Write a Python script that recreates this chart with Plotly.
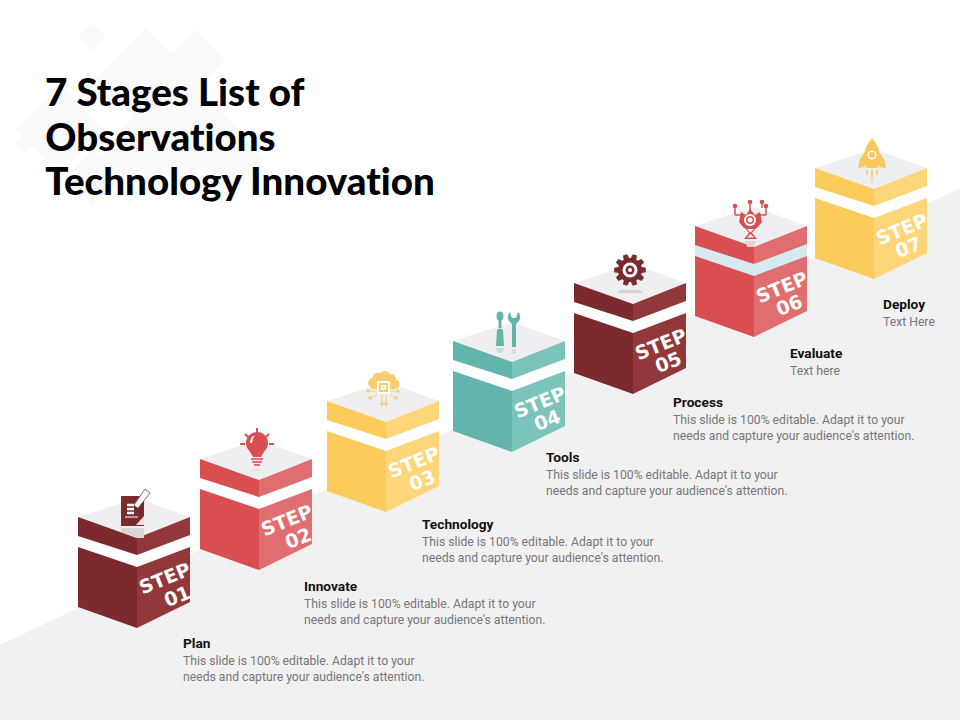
import math
import plotly.graph_objects as go

# text content
title_lines = ["7 Stages List of", "Observations", "Technology Innovation"]
step_labels = ["01", "02", "03", "04", "05", "06", "07"]
stage_names = ["Plan", "Innovate", "Technology", "Tools", "Process", "Evaluate", "Deploy"]
long_text = ["This slide is 100% editable. Adapt it to your",
             "needs and capture your audience's attention."]
stage_text = [long_text, long_text, long_text, long_text, long_text, ["Text here"], ["Text Here"]]

# layout of the slide, in pixels
cube_left = [78, 200, 327, 453, 574, 695, 815]
cube_top = [517, 459, 401, 341, 283, 226, 168]
number_dx = [99, 98, 95, 94, 94, 94, 93]
label_x = [182, 303, 421, 545, 672, 789, 882]
label_y = [643, 586, 524, 457, 402, 353, 304]

# styles
left_colors = ["#7b2b2e", "#d94f51", "#fbcc5c", "#62b5ad", "#7b2b2e", "#d94f51", "#fbcc5c"]
right_colors = ["#92383b", "#e06d70", "#fcd678", "#7cc3bb", "#92383b", "#e06d70", "#fcd678"]
band_colors = ["#ffffff", "#ffffff", "#ffffff", "#ffffff", "#ffffff", "#d6e9ef", "#ffffff"]
GREY = "#f1f1f2"
TOP = "#efeff1"
DIAMOND = "#f9f9f9"

fig = go.Figure()


def poly(points, color):
    path = "M " + " L ".join(f"{x},{y}" for x, y in points) + " Z"
    fig.add_shape(type="path", path=path, fillcolor=color, line_width=0, layer="below")


def curve(path, color):
    fig.add_shape(type="path", path=path, fillcolor=color, line_width=0, layer="below")


def dot(x, y, r, color, ry=None):
    ry = r if ry is None else ry
    fig.add_shape(type="circle", x0=x - r, x1=x + r, y0=y - ry, y1=y + ry,
                  fillcolor=color, line_width=0, layer="below")


def stroke(x0, y0, x1, y1, color, width=1.5):
    fig.add_shape(type="line", x0=x0, y0=y0, x1=x1, y1=y1,
                  line=dict(color=color, width=width), layer="below")


def diamond(x, y, r, color=DIAMOND):
    poly([(x, y - r), (x + r, y), (x, y + r), (x - r, y)], color)


def text(x, y, s, size, color, family="Roboto", anchor="left", weight="normal", angle=0):
    fig.add_annotation(x=x, y=y, text=s, showarrow=False, xanchor=anchor, yanchor="middle",
                       textangle=angle, borderpad=0,
                       font=dict(family=family, size=size, color=color, weight=weight))


def draw_cube(i):
    x, y = cube_left[i], cube_top[i]
    mid, right = x + 59, x + 112
    poly([(x, y), (mid, y - 19), (right, y), (mid, y + 21)], TOP)
    poly([(x, y), (mid, y + 21), (mid, y + 111), (x, y + 90)], left_colors[i])
    poly([(mid, y + 21), (right, y), (right, y + 85), (mid, y + 111)], right_colors[i])
    poly([(x, y + 19), (mid, y + 38), (right, y + 18), (right, y + 30), (mid, y + 50), (x, y + 30)],
         band_colors[i])
    text(x + 87, y + 61, "STEP", 19, "white", "DejaVu Sans", "center", "bold", -22)
    text(x + number_dx[i], y + 79, step_labels[i], 19, "white", "DejaVu Sans", "center", "bold", -22)


def draw_book(c, pale):
    poly([(121, 496), (144, 496), (144, 526), (121, 526)], c)
    poly([(121, 528), (144, 528), (144, 538), (137, 538), (121, 532)], pale)
    for yy in (505, 509, 513):
        stroke(127, yy, 134, yy, "#ffffff", 2.5)
    stroke(125, 517, 138, 517, "#ffffff", 1)
    poly([(145, 489), (150, 493), (138, 508), (134, 505)], "#ffffff")
    stroke(145, 489, 134, 505, "#8a6a6c", 1)
    stroke(150, 493, 138, 508, "#8a6a6c", 1)
    stroke(145, 489, 150, 493, "#8a6a6c", 1)
    poly([(144, 516), (144, 525), (136, 525)], "#ecdcdc")


def draw_bulb(c, pale):
    dot(257, 443, 11, c)
    poly([(249, 450), (265, 450), (261, 457), (253, 457)], c)
    curve("M 250,443 Q 250,437 255,435 Q 252,439 252,443 Z", "#ffffff")
    for yy, half in ((459, 6), (462, 5), (465, 3)):
        stroke(257 - half, yy, 257 + half, yy, c, 1.6)
    stroke(257, 428, 257, 433, c, 2)
    stroke(245, 434, 248, 437, c, 2)
    stroke(269, 434, 266, 437, c, 2)
    stroke(240, 444, 245, 444, c, 2)
    stroke(269, 444, 274, 444, c, 2)
    stroke(253, 470, 261, 470, pale, 1.5)


def draw_cloud(c, pale):
    for cx, cy, r in ((373, 383, 5), (378, 378, 5.5), (385, 376, 5), (391, 379, 5), (395, 384, 4.5)):
        dot(cx, cy, r, c)
    poly([(370, 384), (398, 384), (396, 389), (371, 389)], c)
    poly([(377, 381), (390, 381), (390, 394), (377, 394)], "#ffffff")
    poly([(379, 383), (388, 383), (388, 392), (379, 392)], c)
    poly([(381, 385), (386, 385), (386, 390), (381, 390)], "#ffffff")
    poly([(382.5, 386.5), (384.5, 386.5), (384.5, 388.5), (382.5, 388.5)], c)
    for x0, y0, x1, y1 in ((377, 391, 369, 391), (377, 394, 372, 398), (390, 391, 397, 391),
                           (390, 394, 395, 398), (382, 394, 382, 403), (386, 394, 386, 403)):
        stroke(x0, y0, x1, y1, c, 1)
    for cx, cy in ((368, 391), (370, 398), (398, 391), (396, 398), (382, 404), (386, 404)):
        dot(cx, cy, 1.8, c)
    stroke(372, 410, 392, 410, pale, 1)


def draw_tools(c, pale):
    dot(500, 316, 3.5, c, 4.5)
    poly([(498.5, 319), (501.5, 319), (501.5, 328), (498.5, 328)], c)
    curve("M 497,330 Q 500,327 503,330 L 504,346 L 496,346 Z", c)
    poly([(496, 348), (504, 348), (503, 353), (497, 353)], pale)
    curve("M 510,312 L 512,318 L 516,318 L 518,312 Q 522,316 519,321 L 516,324 L 516,347 "
          "L 512,347 L 512,324 L 509,321 Q 506,316 510,312 Z", c)
    poly([(512, 349), (516, 349), (515.5, 354), (512.5, 354)], pale)


def draw_gear(c, pale):
    cx, cy = 630, 270
    pts = []
    for k in range(10):
        base = k * 2 * math.pi / 10
        for off, r in ((-0.24, 12), (-0.14, 16), (0.14, 16), (0.24, 12)):
            pts.append((round(cx + r * math.cos(base + off), 1), round(cy + r * math.sin(base + off), 1)))
    poly(pts, c)
    dot(cx, cy, 7.5, "#ffffff")
    dot(cx, cy, 4.5, c)
    dot(cx, cy, 2, "#ffffff")
    poly([(620, 290), (640, 290), (643, 293), (617, 293)], pale)


def draw_robot(c, pale):
    for x0, y0, x1, y1 in ((735, 206, 735, 215), (735, 215, 741, 215), (750, 202, 750, 212),
                           (762, 202, 762, 208), (766, 206, 766, 215), (766, 215, 760, 215)):
        stroke(x0, y0, x1, y1, c, 1.5)
    for cx, cy in ((735, 206), (750, 202), (762, 202), (766, 206)):
        dot(cx, cy, 2.3, c)
    poly([(741, 212), (746, 215), (750, 209), (755, 215), (760, 212), (762, 222), (757, 228), (744, 228), (739, 222)], c)
    dot(750, 220, 6, "#ffffff")
    dot(750, 220, 4, c)
    dot(750, 220, 2.5, "#ffffff")
    poly([(744, 227), (757, 227), (752, 233), (757, 239), (744, 239), (749, 233)], c)
    poly([(747, 229), (754, 229), (750.5, 232.5)], "#ffffff")
    poly([(747, 237.5), (754, 237.5), (750.5, 234)], "#ffffff")
    poly([(745, 241), (756, 241), (754, 247), (747, 247)], pale)


def draw_rocket(c, pale):
    curve("M 872,138 Q 880,147 880,158 L 878,168 L 866,168 L 864,158 Q 864,147 872,138 Z", c)
    poly([(865, 152), (865, 167), (858, 168), (860, 159)], c)
    poly([(879, 152), (879, 167), (886, 168), (884, 159)], c)
    dot(872, 155, 4.5, "#ffffff")
    dot(872, 155, 3, c)
    stroke(867, 170, 867, 175, c, 1.5)
    stroke(872, 170, 872, 185, pale, 1.5)
    stroke(872, 170, 872, 178, c, 1.5)
    stroke(877, 170, 877, 175, c, 1.5)


# page background
for dx, dy, r in [(92, 37, 14), (145, 78, 50), (195, 60, 30), (60, 130, 45), (25, 143, 10),
                  (92, 178, 28), (180, 130, 60), (230, 160, 35), (130, 165, 40)]:
    diamond(dx, dy, r)
poly([(0, 645), (960, 188), (960, 720), (0, 720)], GREY)

for i in range(7):
    draw_cube(i)

draw_book(left_colors[0], "#dcd4d6")
draw_bulb(left_colors[1], "#e8d9da")
draw_cloud("#f9cf6e", "#f0ecdc")
draw_tools(left_colors[3], "#c9dfdc")
draw_gear(left_colors[4], "#d8d2d2")
draw_robot(left_colors[5], "#eccfd0")
draw_rocket("#f8c95f", "#f5e3b4")

for line, y in zip(title_lines, (91, 136, 180)):
    text(44, y, line, 38.5, "#000000", "Lato", "left", 900)

for i, name in enumerate(stage_names):
    text(label_x[i], label_y[i] - 0.5, name, 13.7, "#111111", "Roboto", "left", "bold")
    for n, line in enumerate(stage_text[i]):
        text(label_x[i], label_y[i] + 17.5 + n * 16, line, 12.2, "#77777a", "Roboto")

fig.update_xaxes(range=[0, 960], visible=False, fixedrange=True)
fig.update_yaxes(range=[720, 0], visible=False, fixedrange=True)
fig.update_layout(width=960, height=720, margin=dict(l=0, r=0, t=0, b=0),
                  plot_bgcolor="white", paper_bgcolor="white", showlegend=False)

fig.write_html("out.html", config={"displayModeBar": False},
               post_script="document.body.style.margin='0';"
                           "document.querySelectorAll('text').forEach(function(t){"
                           "t.style.fontVariantLigatures='none';});")
